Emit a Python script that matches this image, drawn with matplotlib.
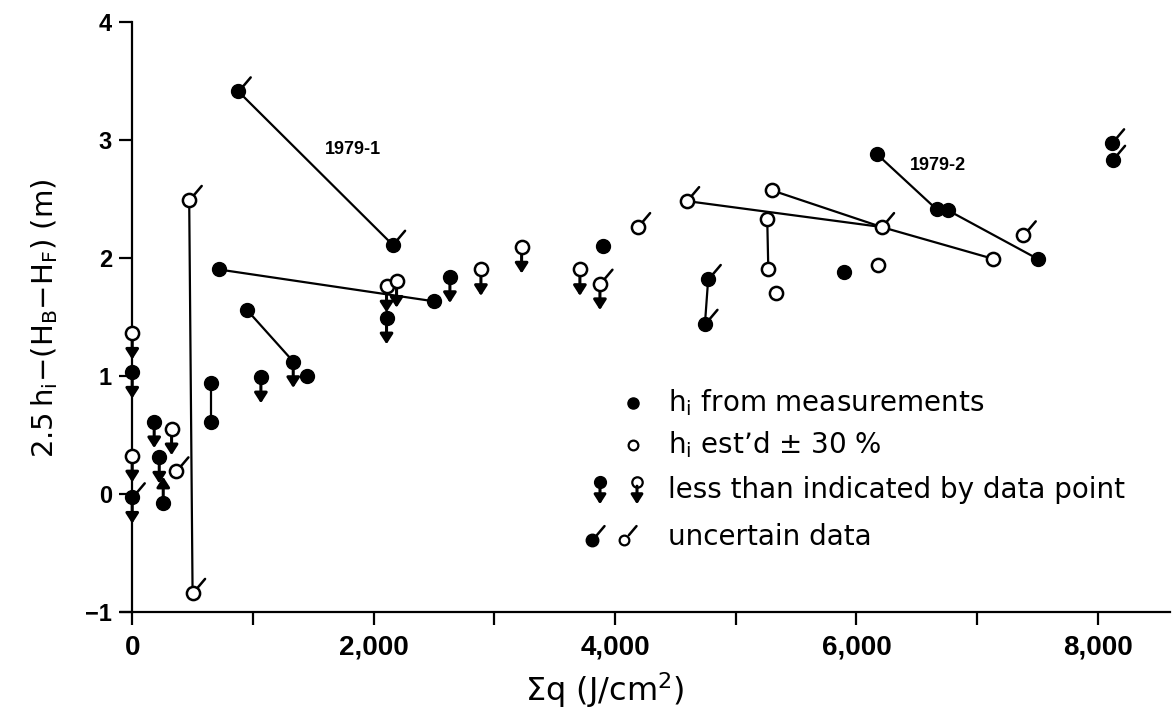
import numpy as np
import matplotlib
matplotlib.use("Agg")
import matplotlib.pyplot as plt
from matplotlib.transforms import offset_copy

# h_i from measurements (filled circles)
meas_q = [0, 0, 182, 224, 257, 652, 652, 948, 1334, 1450, 1066, 878, 2157, 718,
          2502, 2107, 2632, 3897, 4772, 4745, 5899, 6167, 6664, 6761, 7501, 8114, 8122]
meas_h = [1.03, -0.03, 0.61, 0.31, -0.08, 0.94, 0.61, 1.56, 1.12, 1.00, 0.99, 3.41, 2.11, 1.90,
          1.63, 1.49, 1.84, 2.10, 1.82, 1.44, 1.88, 2.88, 2.41, 2.40, 1.99, 2.97, 2.83]
meas_less = [0, 1, 2, 3, 8, 10, 15, 16]
meas_more = [4]
meas_unc = [1, 11, 12, 18, 19, 25, 26]

# h_i estimated +-30% (open circles)
est_q = [0, 0, 326, 362, 472, 500, 2107, 2190, 2889, 3226, 3709, 3875, 4187, 4593,
         5261, 5270, 5333, 5302, 6208, 6176, 7133, 7382]
est_h = [1.36, 0.32, 0.55, 0.19, 2.49, -0.84, 1.76, 1.80, 1.90, 2.09, 1.90, 1.78, 2.26, 2.48,
         2.33, 1.90, 1.70, 2.57, 2.26, 1.94, 1.99, 2.19]
est_less = [0, 1, 2, 6, 7, 8, 9, 10, 11]
est_unc = [3, 4, 5, 11, 12, 13, 18, 21]

# connected points: (series, index) chains
links = [
    [('m', 5), ('m', 6)],
    [('m', 7), ('m', 8)],
    [('m', 11), ('m', 12)],
    [('m', 13), ('m', 14)],
    [('m', 18), ('m', 19)],
    [('m', 21), ('m', 22), ('m', 23), ('m', 24)],
    [('e', 4), ('e', 5)],
    [('e', 14), ('e', 15)],
    [('e', 13), ('e', 18)],
    [('e', 17), ('e', 18), ('e', 20)],
]

labels_txt = [("1979-1", 1831, 2.92), ("1979-2", 6672, 2.78)]

xticks = list(range(0, 9000, 1000))
xticklabels = ['0', '', '2,000', '', '4,000', '', '6,000', '', '8,000']
yticks = [-1, 0, 1, 2, 3, 4]

W, H = 1176, 727
fig = plt.figure(figsize=(W / 100, H / 100), dpi=100)
ax = fig.add_axes([0.1032, 0.1586, 0.8919, 0.8116])
ax.set_xlim(-90, 8600)
ax.set_ylim(-1, 4)

for s in ['top', 'right']:
    ax.spines[s].set_visible(False)
ax.spines['left'].set_position(('data', 0))
for s in ['left', 'bottom']:
    ax.spines[s].set_linewidth(1.6)

ax.set_xticks(xticks)
ax.set_xticklabels(xticklabels)
ax.set_yticks(yticks)
ax.tick_params(axis='both', direction='out', length=9.5, width=1.6)
ax.tick_params(axis='x', labelsize=20, pad=7)
ax.tick_params(axis='y', labelsize=17, pad=5)
for lbl in ax.get_xticklabels() + ax.get_yticklabels():
    lbl.set_family('Liberation Sans')
    lbl.set_fontweight('bold')

series = {'m': (meas_q, meas_h), 'e': (est_q, est_h)}
for chain in links:
    xs = [series[s][0][i] for s, i in chain]
    ys = [series[s][1][i] for s, i in chain]
    ax.plot(xs, ys, color='k', lw=1.6, zorder=1, clip_on=False)

ax.plot(meas_q, meas_h, 'o', ms=10, color='k', zorder=3, clip_on=False)
ax.plot(est_q, est_h, 'o', ms=9.5, mfc='white', mec='k', mew=1.8, zorder=3, clip_on=False)


def arrow(trans, x, y, up=False, start=3, end=19, scale=12):
    sgn = 1 if up else -1
    tip = offset_copy(trans, fig=fig, x=0, y=sgn * end, units='points')
    ax.annotate('', xy=(x, y), xycoords=tip, xytext=(0, -sgn * (end - start)),
                textcoords='offset points', annotation_clip=False, zorder=2,
                arrowprops=dict(arrowstyle='-|>,head_length=0.5,head_width=0.32',
                                mutation_scale=scale, color='k', lw=2.2,
                                shrinkA=0, shrinkB=0))


def unc_tick(trans, x, y):
    base = offset_copy(trans, fig=fig, x=3.5, y=3.5, units='points')
    ax.annotate('', xy=(x, y), xycoords=base, xytext=(5.5, 6.5),
                textcoords='offset points', annotation_clip=False,
                arrowprops=dict(arrowstyle='-', color='k', lw=1.8,
                                shrinkA=0, shrinkB=0))


for i in meas_less:
    arrow(ax.transData, meas_q[i], meas_h[i])
for i in meas_more:
    arrow(ax.transData, meas_q[i], meas_h[i], up=True)
for i in meas_unc:
    unc_tick(ax.transData, meas_q[i], meas_h[i])
for i in est_less:
    arrow(ax.transData, est_q[i], est_h[i])
for i in est_unc:
    unc_tick(ax.transData, est_q[i], est_h[i])

for txt, x, y in labels_txt:
    ax.text(x, y, txt, ha='center', va='center', fontsize=13,
            family='Liberation Sans', fontweight='bold')

# axis labels
fig.text(45 / W, 1 - 318 / H,
         r'2.5$\,$h$_\mathregular{i}$$-$(H$_\mathregular{B}$$-$H$_\mathregular{F}$) (m)',
         rotation=90, ha='center', va='center', fontsize=21)
fig.text(605 / W, 1 - 690 / H, r'$\Sigma$q (J/cm$^\mathregular{2}$)',
         ha='center', va='center', fontsize=23)

# legend, drawn by hand
legend_rows = ['h$_\\mathregular{i}$ from measurements',
               'h$_\\mathregular{i}$ est\u2019d \u00b1 30 %',
               'less than indicated by data point',
               'uncertain data']
legend_y = [403, 445, 490, 537]
ft = fig.transFigure
for txt, py in zip(legend_rows, legend_y):
    fig.text(668 / W, 1 - py / H, txt, ha='left', va='center', fontsize=20)

ax.plot([633 / W], [1 - 403 / H], 'o', ms=8, color='k', transform=ft, clip_on=False)
ax.plot([633 / W], [1 - 445 / H], 'o', ms=7, mfc='white', mec='k', mew=1.6,
        transform=ft, clip_on=False)
ax.plot([600 / W], [1 - 482 / H], 'o', ms=8.5, color='k', transform=ft, clip_on=False)
ax.plot([637 / W], [1 - 482 / H], 'o', ms=7.5, mfc='white', mec='k', mew=1.6,
        transform=ft, clip_on=False)
arrow(ft, 600 / W, 1 - 482 / H, start=3, end=16, scale=11)
arrow(ft, 637 / W, 1 - 482 / H, start=3, end=16, scale=11)
ax.plot([592 / W], [1 - 540 / H], 'o', ms=9, color='k', transform=ft, clip_on=False)
ax.plot([624 / W], [1 - 540 / H], 'o', ms=7, mfc='white', mec='k', mew=1.6,
        transform=ft, clip_on=False)
unc_tick(ft, 592 / W, 1 - 540 / H)
unc_tick(ft, 624 / W, 1 - 540 / H)

fig.savefig('out.png', dpi=100)
